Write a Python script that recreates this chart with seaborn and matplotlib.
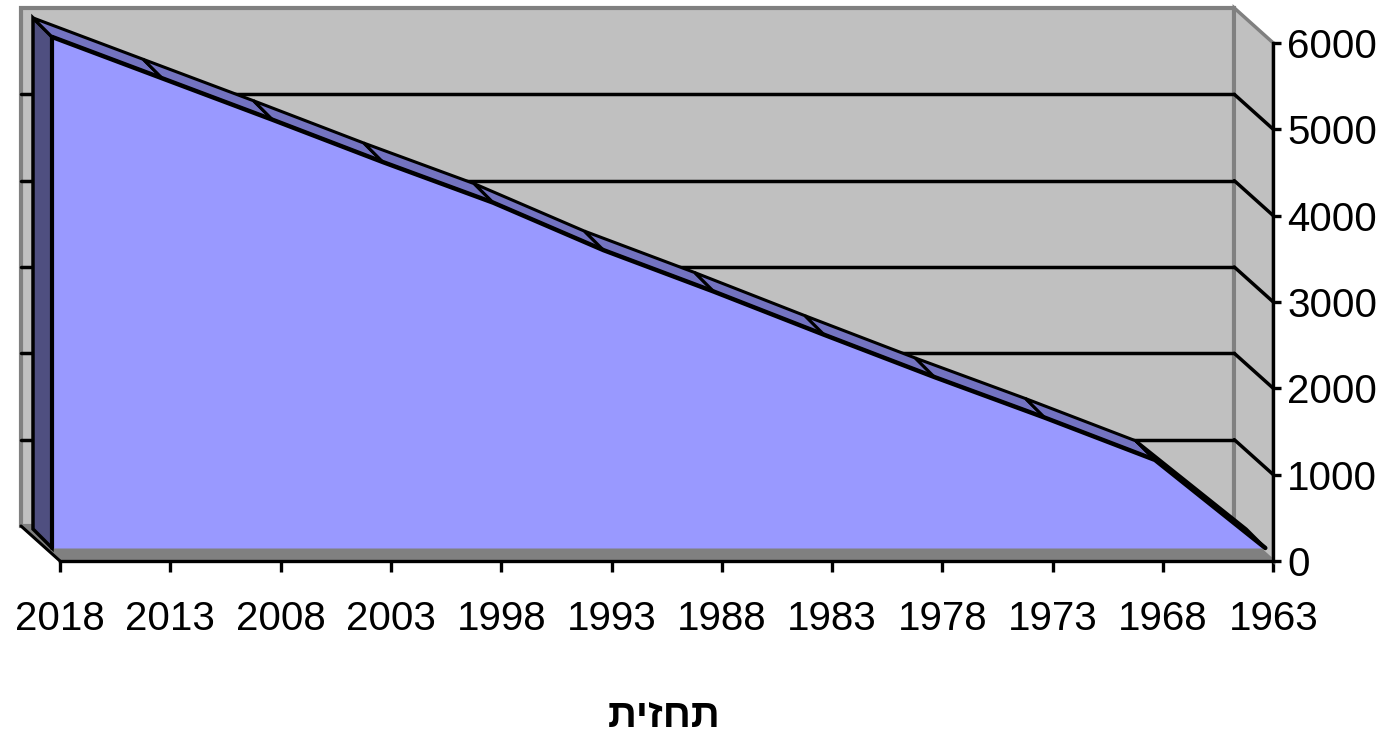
import numpy as np
import pandas as pd
import matplotlib.pyplot as plt
import seaborn as sns
from matplotlib.patches import Polygon

years = [2018, 2013, 2008, 2003, 1998, 1993, 1988, 1983, 1978, 1973, 1968, 1963]
values = [5920, 5440, 4960, 4470, 4000, 3450, 2970, 2470, 1980, 1510, 1020, 0]
y_ticks = [0, 1000, 2000, 3000, 4000, 5000, 6000]
title = 'תחזית'

df = pd.DataFrame({'year': years, 'value': values})
df['pos'] = np.arange(len(df))
n = len(df)

sns.set_theme(style='white')
plt.rcParams['font.family'] = ['Liberation Sans', 'DejaVu Sans']

W, H = 1385, 733
fig = plt.figure(figsize=(W / 100, H / 100), dpi=100)
# pixel frame of the front (axis) plane
x0, x1, y0, y1 = 60, 1273.3, 561, 43
ax = fig.add_axes([x0 / W, 1 - y0 / H, (x1 - x0) / W, (y0 - y1) / H])
ax.set_xlim(0, n - 1)
ax.set_ylim(0, 6000)
ax.patch.set_visible(False)
px_x = (x1 - x0) / (n - 1)
px_y = (y0 - y1) / 6000

# depth planes as pixel offsets (dx, dy up)
AXIS = (0, 0)
FRONT = (-8, 13)
BACK = (-27, 32)
WALL = (-39, 35)


def shift(x, y, d):
    return np.asarray(x, float) + d[0] / px_x, np.asarray(y, float) + d[1] / px_y


def poly(pts, fc, ec, lw, z):
    ax.add_patch(Polygon(np.array(pts), closed=True, fc=fc, ec=ec, lw=lw,
                         clip_on=False, zorder=z, joinstyle='miter'))


last = n - 1
top = y_ticks[-1]
# back wall
bx, by = shift([0, last, last, 0], [0, 0, top, top], WALL)
poly(np.column_stack([bx, by]), '#C0C0C0', '#808080', 3, 1)
# right side wall
sx1, sy1 = shift([last, last], [0, top], WALL)
sx0, sy0 = shift([last, last], [top, 0], AXIS)
poly(np.column_stack([np.r_[sx1, sx0], np.r_[sy1, sy0]]), '#C0C0C0', '#808080', 2.5, 1)
# floor
fx0, fy0 = shift([0, last], [0, 0], AXIS)
fx1, fy1 = shift([last, 0], [0, 0], WALL)
poly(np.column_stack([np.r_[fx0, fx1], np.r_[fy0, fy1]]), '#808080', '#808080', 1, 2)
lx = [shift(0, 0, WALL)[0], shift(0, 0, AXIS)[0]]
ly = [shift(0, 0, WALL)[1], shift(0, 0, AXIS)[1]]
ax.plot(lx, ly, color='black', lw=2.2, clip_on=False, zorder=3)

# gridlines on back wall and side wall
for v in y_ticks[1:-1]:
    gx, gy = shift([0, last], [v, v], WALL)
    ax.plot(gx, gy, color='black', lw=2.5, clip_on=False, zorder=3)
    ex0, ey0 = shift(last, v, WALL)
    ex1, ey1 = shift(last, v, AXIS)
    ax.plot([ex0, ex1], [ey0, ey1], color='black', lw=2.5, clip_on=False, zorder=3)

# series: left side face
v0 = df['value'].iloc[0]
ax_, ay_ = shift([0, 0], [0, v0], FRONT)
bx_, by_ = shift([0, 0], [v0, 0], BACK)
poly(np.column_stack([np.r_[ax_, bx_], np.r_[ay_, by_]]), '#4F4F80', 'black', 2.5, 5)

# series: top band, one facet per segment
fxs, fys = shift(df['pos'], df['value'], FRONT)
kxs, kys = shift(df['pos'], df['value'], BACK)
for i in range(n - 1):
    pts = [(fxs[i], fys[i]), (fxs[i + 1], fys[i + 1]), (kxs[i + 1], kys[i + 1]), (kxs[i], kys[i])]
    poly(pts, '#7373C0', 'black', 2.2, 5)

# series: front face
zx, zy = shift(df['pos'], 0, FRONT)
ax.fill_between(fxs, np.full(n, zy), fys, color='#9999FF', lw=0, zorder=6, clip_on=False)
front = pd.DataFrame({'x': fxs, 'y': fys})
sns.lineplot(data=front, x='x', y='y', ax=ax, color='black', lw=3.2, zorder=7,
             clip_on=False, sort=False)
ax.plot([fxs[0], fxs[0]], [zy, fys[0]], color='black', lw=3, zorder=7, clip_on=False)

# axes
for s in ['top', 'left']:
    ax.spines[s].set_visible(False)
for s in ['bottom', 'right']:
    ax.spines[s].set_color('black')
    ax.spines[s].set_linewidth(2.4)
    ax.spines[s].set_zorder(8)
ax.set_xticks(df['pos'])
ax.set_xticklabels([str(y) for y in df['year']])
ax.yaxis.tick_right()
ax.set_yticks(y_ticks)
ax.set_yticklabels([str(t) for t in y_ticks])
ax.tick_params(axis='x', direction='out', length=8, width=2.4, pad=20,
               labelsize=29, colors='black', bottom=True)
ax.tick_params(axis='y', direction='out', length=6, width=2.4, pad=4,
               labelsize=29, colors='black', right=True)
ax.set_xlabel('')
ax.set_ylabel('')

fig.text(664 / W, 1 - 716 / H, title[::-1], ha='center', va='center',
         fontsize=29, fontweight='bold', color='black')

fig.savefig('out.png', dpi=100)
